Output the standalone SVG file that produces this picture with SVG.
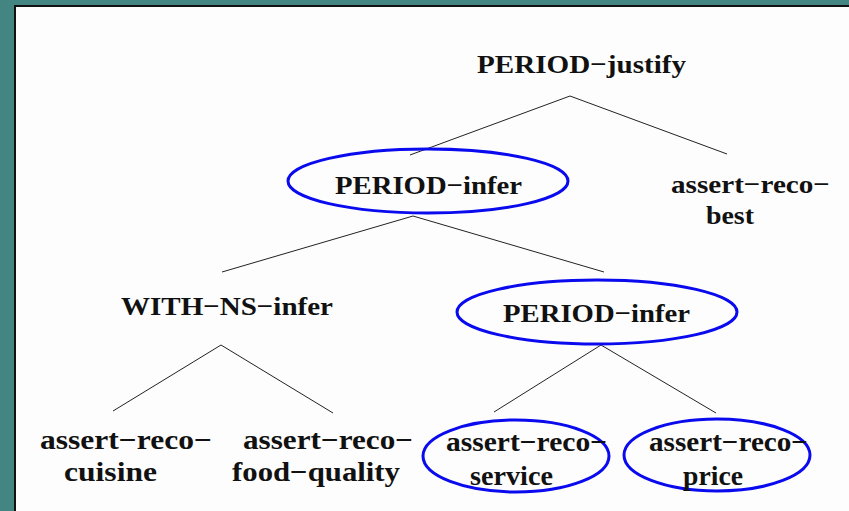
<svg xmlns="http://www.w3.org/2000/svg" width="849" height="511" viewBox="0 0 849 511">
  <style>
    .lbl { font-family: "Liberation Serif", "Times New Roman", serif; font-weight: bold; fill: #111; text-anchor: start; }
    .top { font-size: 26px; }
    .leaf { font-size: 28px; }
    .ring { fill: none; stroke: #0a0aee; stroke-width: 3; }
    .edge { stroke: #222; stroke-width: 1; fill: none; }
  </style>

  <!-- frame -->
  <rect x="0" y="0" width="849" height="511" fill="#438580"/>
  <rect x="14" y="5" width="835" height="506" fill="#111"/>
  <rect x="16" y="7" width="833" height="504" fill="#fdfdfd"/>

  <g id="connectors">
    <path class="edge" d="M570 96 L410 155 M570 96 L727 154"/>
    <path class="edge" d="M413 216 L222 272 M413 216 L604 272"/>
    <path class="edge" d="M221 345 L113 411 M221 345 L333 413"/>
    <path class="edge" d="M601 345 L494 412 M601 345 L716 413"/>
  </g>

  <g id="period-justify">
    <text class="lbl top" x="477" y="73" textLength="209" lengthAdjust="spacingAndGlyphs">PERIOD−justify</text>
  </g>

  <g id="period-infer-1">
    <ellipse class="ring" cx="428" cy="181" rx="140" ry="32"/>
    <text class="lbl top" x="335" y="194" textLength="187" lengthAdjust="spacingAndGlyphs">PERIOD−infer</text>
  </g>

  <g id="assert-reco-best">
    <text class="lbl top" x="671" y="193" textLength="159" lengthAdjust="spacingAndGlyphs">assert−reco−</text>
    <text class="lbl top" x="706" y="224" textLength="48" lengthAdjust="spacingAndGlyphs">best</text>
  </g>

  <g id="with-ns-infer">
    <text class="lbl top" x="121" y="315" textLength="212" lengthAdjust="spacingAndGlyphs">WITH−NS−infer</text>
  </g>

  <g id="period-infer-2">
    <ellipse class="ring" cx="597" cy="312" rx="140" ry="32"/>
    <text class="lbl top" x="503" y="322" textLength="187" lengthAdjust="spacingAndGlyphs">PERIOD−infer</text>
  </g>

  <g id="assert-reco-cuisine">
    <text class="lbl leaf" x="40" y="449" textLength="172" lengthAdjust="spacingAndGlyphs">assert−reco−</text>
    <text class="lbl leaf" x="64" y="481" textLength="93" lengthAdjust="spacingAndGlyphs">cuisine</text>
  </g>

  <g id="assert-reco-food-quality">
    <text class="lbl leaf" x="243" y="449" textLength="170" lengthAdjust="spacingAndGlyphs">assert−reco−</text>
    <text class="lbl leaf" x="232" y="481" textLength="168" lengthAdjust="spacingAndGlyphs">food−quality</text>
  </g>

  <g id="assert-reco-service">
    <ellipse class="ring" cx="516" cy="456" rx="93" ry="36"/>
    <text class="lbl leaf" x="446" y="451" textLength="161" lengthAdjust="spacingAndGlyphs">assert−reco−</text>
    <text class="lbl leaf" x="470" y="485" textLength="83" lengthAdjust="spacingAndGlyphs">service</text>
  </g>

  <g id="assert-reco-price">
    <ellipse class="ring" cx="717" cy="455" rx="93" ry="36"/>
    <text class="lbl leaf" x="649" y="451" textLength="159" lengthAdjust="spacingAndGlyphs">assert−reco−</text>
    <text class="lbl leaf" x="683" y="485" textLength="60" lengthAdjust="spacingAndGlyphs">price</text>
  </g>
</svg>
